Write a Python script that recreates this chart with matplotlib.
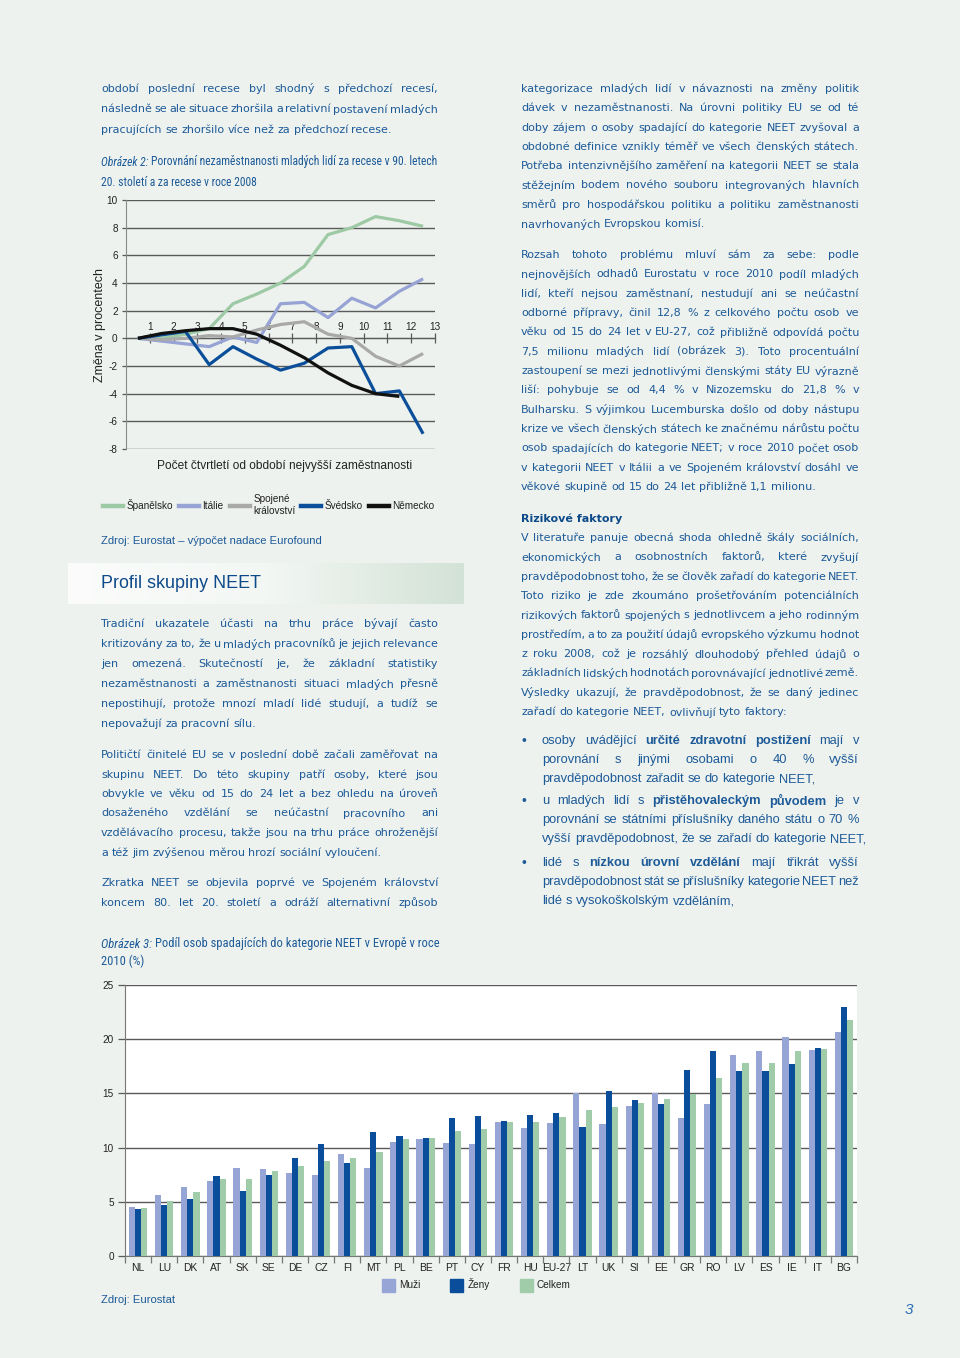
import matplotlib
matplotlib.use("Agg")
import matplotlib.pyplot as plt
import numpy as np
from matplotlib.patches import Patch
from matplotlib.lines import Line2D

# --- data: figure 2 (change in youth unemployment, % points) ---
quarters = list(range(1, 14))
spain = [0, 0.0, 0.3, 0.7, 2.5, 3.2, 4.0, 5.2, 7.5, 8.0, 8.8, 8.5, 8.1]
italy = [0, -0.2, -0.4, -0.6, 0.1, -0.3, 2.5, 2.6, 1.5, 2.9, 2.2, 3.4, 4.3]
uk = [0, -0.1, 0.0, 0.2, 0.1, 0.6, 1.0, 1.2, 0.3, 0.0, -1.3, -2.0, -1.1]
sweden = [0, 0.25, 0.5, -1.9, -0.6, -1.5, -2.3, -1.8, -0.7, -0.6, -4.0, -3.8, -6.9]
germany = [0, 0.35, 0.55, 0.7, 0.7, 0.3, -0.5, -1.4, -2.5, -3.4, -4.0, -4.2]
line_names = ["Španělsko", "Itálie", "Spojené\nkrálovství", "Švédsko", "Německo"]

# --- data: figure 3 (NEET share 2010, %) ---
countries = ["NL", "LU", "DK", "AT", "SK", "SE", "DE", "CZ", "FI", "MT", "PL", "BE", "PT",
             "CY", "FR", "HU", "EU-27", "LT", "UK", "SI", "EE", "GR", "RO", "LV", "ES",
             "IE", "IT", "BG"]
muzi = [4.5, 5.6, 6.4, 6.9, 8.1, 8.0, 7.7, 7.5, 9.4, 8.1, 10.5, 10.8, 10.4,
        10.3, 12.4, 11.8, 12.3, 15.0, 12.2, 13.8, 15.0, 12.7, 14.0, 18.5, 18.9,
        20.2, 19.0, 20.7]
zeny = [4.3, 4.7, 5.3, 7.4, 6.0, 7.5, 9.0, 10.3, 8.6, 11.4, 11.1, 10.9, 12.7,
        12.9, 12.5, 13.0, 13.2, 11.9, 15.2, 14.4, 14.0, 17.2, 18.9, 17.1, 17.1,
        17.7, 19.2, 23.0]
celkem = [4.4, 5.1, 5.9, 7.1, 7.1, 7.8, 8.3, 8.8, 9.0, 9.6, 10.8, 10.9, 11.5,
          11.7, 12.4, 12.4, 12.8, 13.5, 13.7, 14.1, 14.5, 14.9, 16.4, 17.8, 17.8,
          18.9, 19.1, 21.8]

# --- page text ---
left_top = ["období poslední recese byl shodný s předchozí recesí,",
            "následně se ale situace zhoršila a relativní postavení mladých",
            "pracujících se zhoršilo více než za předchozí recese."]
left_p1 = ["Tradiční ukazatele účasti na trhu práce bývají často",
           "kritizovány za to, že u mladých pracovníků je jejich relevance",
           "jen omezená. Skutečností je, že základní statistiky",
           "nezaměstnanosti a zaměstnanosti situaci mladých přesně",
           "nepostihují, protože mnozí mladí lidé studují, a tudíž se",
           "nepovažují za pracovní sílu."]
left_p2 = ["Političtí činitelé EU se v poslední době začali zaměřovat na",
           "skupinu NEET. Do této skupiny patří osoby, které jsou",
           "obvykle ve věku od 15 do 24 let a bez ohledu na úroveň",
           "dosaženého vzdělání se neúčastní pracovního ani",
           "vzdělávacího procesu, takže jsou na trhu práce ohroženější",
           "a též jim zvýšenou měrou hrozí sociální vyloučení."]
left_p3 = ["Zkratka NEET se objevila poprvé ve Spojeném království",
           "koncem 80. let 20. století a odráží alternativní způsob"]
right_p1 = ["kategorizace mladých lidí v návaznosti na změny politik",
            "dávek v nezaměstnanosti. Na úrovni politiky EU se od té",
            "doby zájem o osoby spadající do kategorie NEET zvyšoval a",
            "obdobné definice vznikly téměř ve všech členských státech.",
            "Potřeba intenzivnějšího zaměření na kategorii NEET se stala",
            "stěžejním bodem nového souboru integrovaných hlavních",
            "směrů pro hospodářskou politiku a politiku zaměstnanosti",
            "navrhovaných Evropskou komisí."]
right_p2 = ["Rozsah tohoto problému mluví sám za sebe: podle",
            "nejnovějších odhadů Eurostatu v roce 2010 podíl mladých",
            "lidí, kteří nejsou zaměstnaní, nestudují ani se neúčastní",
            "odborné přípravy, činil 12,8 % z celkového počtu osob ve",
            "věku od 15 do 24 let v EU-27, což přibližně odpovídá počtu",
            "7,5 milionu mladých lidí (obrázek 3). Toto procentuální",
            "zastoupení se mezi jednotlivými členskými státy EU výrazně",
            "liší: pohybuje se od 4,4 % v Nizozemsku do 21,8 % v",
            "Bulharsku. S výjimkou Lucemburska došlo od doby nástupu",
            "krize ve všech členských státech ke značnému nárůstu počtu",
            "osob spadajících do kategorie NEET; v roce 2010 počet osob",
            "v kategorii NEET v Itálii a ve Spojeném království dosáhl ve",
            "věkové skupině od 15 do 24 let přibližně 1,1 milionu."]
right_p3 = ["V literatuře panuje obecná shoda ohledně škály sociálních,",
            "ekonomických a osobnostních faktorů, které zvyšují",
            "pravděpodobnost toho, že se člověk zařadí do kategorie NEET.",
            "Toto riziko je zde zkoumáno prošetřováním potenciálních",
            "rizikových faktorů spojených s jednotlivcem a jeho rodinným",
            "prostředím, a to za použití údajů evropského výzkumu hodnot",
            "z roku 2008, což je rozsáhlý dlouhodobý přehled údajů o",
            "základních lidských hodnotách porovnávající jednotlivé země.",
            "Výsledky ukazují, že pravděpodobnost, že se daný jedinec",
            "zařadí do kategorie NEET, ovlivňují tyto faktory:"]
bullets = [["osoby uvádějící **určité zdravotní postižení** mají v",
            "porovnání s jinými osobami o 40 % vyšší",
            "pravděpodobnost zařadit se do kategorie NEET,"],
           ["u mladých lidí s **přistěhovaleckým původem** je v",
            "porovnání se státními příslušníky daného státu o 70 %",
            "vyšší pravděpodobnost, že se zařadí do kategorie NEET,"],
           ["lidé s **nízkou úrovní vzdělání** mají třikrát vyšší",
            "pravděpodobnost stát se příslušníky kategorie NEET než",
            "lidé s vysokoškolským vzděláním,"]]

plt.rcParams["axes.unicode_minus"] = False

W, H = 960, 1358
BG = "#edf2ee"
INK = "#1d5a98"
DARK = "#0d4a8a"
BODY = ["DejaVu Sans"]
NARROW = ["Roboto Condensed", "Liberation Sans Narrow", "Roboto", "DejaVu Sans"]
SANS = ["Liberation Sans", "DejaVu Sans"]
C_ES, C_IT, C_UK, C_SE, C_DE = "#9dc9a5", "#97a3d4", "#a9a9a9", "#0b4f9a", "#111111"
C_M, C_Z, C_C = "#97a4d6", "#0a4e9b", "#a0cca9"
GRID = "#5a5a5a"
BODY_SIZE = 8.0


def fx(px):
    return px / W


def fy(py):
    return 1 - py / H


fig = plt.figure(figsize=(9.6, 13.58), dpi=100, facecolor=BG)
renderer = fig.canvas.get_renderer()


def words_of(line):
    out = []
    for i, seg in enumerate(line.split("**")):
        for w in seg.split():
            out.append((w, i % 2 == 1))
    return out


def space_width(size, family):
    a = fig.text(0, 0, "a a", fontsize=size, family=family)
    b = fig.text(0, 0, "aa", fontsize=size, family=family)
    d = a.get_window_extent(renderer).width - b.get_window_extent(renderer).width
    a.remove()
    b.remove()
    return d


def put_line(x0, x1, y, line, size, family, justify):
    words = words_of(line)
    objs = [fig.text(0, fy(y), w, fontsize=size, family=family, color=INK,
                     weight="bold" if b else "normal", va="center")
            for w, b in words]
    widths = [o.get_window_extent(renderer).width for o in objs]
    if justify and len(objs) > 1:
        gap = (x1 - x0 - sum(widths)) / (len(objs) - 1)
    else:
        gap = space_width(size, family)
    x = x0
    for o, w in zip(objs, widths):
        o.set_x(fx(x))
        x += w + gap


def paragraph(x0, x1, y0, step, lines, size=BODY_SIZE, family=BODY, last_justified=False):
    for i, line in enumerate(lines):
        last = i == len(lines) - 1
        put_line(x0, x1, y0 + i * step, line, size, family, (not last) or last_justified)


# body text, left column
paragraph(101, 438, 89, 20.5, left_top)
paragraph(101, 438, 624, 20.0, left_p1)
paragraph(101, 438, 755, 19.5, left_p2)
paragraph(101, 438, 883, 20.0, left_p3, last_justified=True)

# body text, right column
paragraph(521, 859, 89, 19.3, right_p1)
paragraph(521, 859, 255, 19.35, right_p2)
fig.text(fx(521), fy(519), "Rizikové faktory", fontsize=BODY_SIZE, family=BODY,
         weight="bold", color=DARK, va="center")
paragraph(521, 859, 538, 19.35, right_p3)
for yb, blines in zip([741, 801, 863], bullets):
    fig.text(fx(521), fy(yb), "•", fontsize=10, family=SANS, color=INK, va="center")
    paragraph(542, 859, yb, 19.0, blines, size=9.3, family=SANS)


# captions: italic head + regular text, sized to span the column like the original
def caption(x, y, head, rest, target_right, size=8.6):
    t = fig.text(fx(x), fy(y), head, fontsize=size, family=NARROW, style="italic",
                 color=INK, va="center")
    r = fig.text(0, fy(y), rest, fontsize=size, family=NARROW, color=INK, va="center")
    w1 = t.get_window_extent(renderer).width
    w2 = r.get_window_extent(renderer).width
    scale = (target_right - x) / (w1 + w2 + 3)
    size = size * scale
    t.set_fontsize(size)
    r.set_fontsize(size)
    w1 = t.get_window_extent(renderer).width
    r.set_x(fx(x + w1 + 3 * scale))
    return size


cs = caption(101, 162, "Obrázek 2:", "Porovnání nezaměstnanosti mladých lidí za recese v 90. letech", 438)
fig.text(fx(101), fy(182), "20. století a za recese v roce 2008", fontsize=cs,
         family=NARROW, color=INK, va="center")
cs = caption(101, 944, "Obrázek 3:", "Podíl osob spadajících do kategorie NEET v Evropě v roce", 438)
fig.text(fx(101), fy(961), "2010 (%)", fontsize=cs, family=NARROW, color=INK, va="center")
fig.text(fx(101), fy(541), "Zdroj: Eurostat – výpočet nadace Eurofound", fontsize=8.1,
         family=SANS, color=INK, va="center")
fig.text(fx(101), fy(1300), "Zdroj: Eurostat", fontsize=8.1, family=SANS, color=INK,
         va="center")
fig.text(fx(905), fy(1310), "3", fontsize=11, family=SANS, style="italic",
         color="#2a6db3", va="center")

# heading band with gradient
band = fig.add_axes([fx(68), fy(604), (464 - 68) / W, (604 - 563) / H])
grad = np.linspace(0, 1, 256).reshape(1, -1)
cmap = matplotlib.colors.LinearSegmentedColormap.from_list(
    "band", ["#fbfcfb", "#f3f7f4", "#d3e2d6"])
band.imshow(grad, aspect="auto", cmap=cmap, extent=[0, 1, 0, 1])
band.set_axis_off()
fig.text(fx(101), fy(584), "Profil skupiny NEET", fontsize=12.9, family=SANS,
         color=DARK, va="center")

# ---------- figure 2: line chart ----------
ax1 = fig.add_axes([fx(126), fy(449), (435 - 126) / W, (449 - 200) / H])
ax1.set_facecolor("none")
series = [spain, italy, uk, sweden, germany]
colors = [C_ES, C_IT, C_UK, C_SE, C_DE]
handles = []
for vals, col, name in zip(series, colors, line_names):
    xs = np.arange(len(vals)) + 0.5
    ax1.plot(xs, vals, color=col, lw=2.3, solid_joinstyle="round", solid_capstyle="butt",
             zorder=3)
    handles.append(Line2D([], [], color=col, lw=3.2, label=name))
ax1.set_xlim(0, 13)
ax1.set_ylim(-8, 10)
ax1.set_yticks(range(-8, 11, 2))
ax1.yaxis.grid(True, color=GRID, lw=1.0)
ax1.set_axisbelow(True)
ax1.spines["right"].set_visible(False)
ax1.spines["bottom"].set_visible(False)
ax1.spines["left"].set_color("#8a8a8a")
ax1.spines["top"].set_position(("data", 0))
ax1.spines["top"].set_color(GRID)
ax1.xaxis.set_ticks_position("top")
ax1.set_xticks(quarters, [str(q) for q in quarters])
ax1.tick_params(axis="x", direction="inout", length=7, width=0.9, color=GRID,
                labelsize=7.2, pad=1, labelcolor="#222222")
ax1.tick_params(axis="y", length=3, width=0.9, color=GRID, labelsize=7.2,
                labelcolor="#222222", pad=3)
for lbl in ax1.get_xticklabels() + ax1.get_yticklabels():
    lbl.set_family(SANS)
ax1.set_ylabel("Změna v procentech", fontsize=9, family=SANS, color="#222222")
ax1.yaxis.set_label_coords(-0.065, 0.5)
fig.text(fx(285), fy(466), "Počet čtvrtletí od období nejvyšší zaměstnanosti",
         fontsize=8.6, family=SANS, color="#222222", ha="center", va="center")
fig.legend(handles=handles, loc="center left", bbox_to_anchor=(fx(94), fy(505)),
           ncol=5, frameon=False, handlelength=2.0, handletextpad=0.35,
           columnspacing=0.6, prop={"family": SANS, "size": 7.2}, labelcolor="#222222")

# ---------- figure 3: bar chart ----------
ax2 = fig.add_axes([fx(125), fy(1256), (857 - 125) / W, (1256 - 985) / H])
ax2.set_facecolor("white")
xpos = np.arange(len(countries))
bw = 0.235
ax2.bar(xpos - bw, muzi, bw, color=C_M, label="Muži", zorder=3)
ax2.bar(xpos, zeny, bw, color=C_Z, label="Ženy", zorder=3)
ax2.bar(xpos + bw, celkem, bw, color=C_C, label="Celkem", zorder=3)
ax2.set_xlim(-0.5, len(countries) - 0.5)
ax2.set_ylim(0, 25)
ax2.set_yticks(range(0, 26, 5))
ax2.yaxis.grid(True, color=GRID, lw=1.0)
ax2.set_axisbelow(True)
for s in ["top", "right"]:
    ax2.spines[s].set_visible(False)
for s in ["left", "bottom"]:
    ax2.spines[s].set_color("#777777")
ax2.set_xticks(xpos, countries)
ax2.set_xticks(np.arange(-0.5, len(countries)), minor=True)
ax2.tick_params(axis="x", which="major", length=0, labelsize=7.4, pad=5, labelcolor="#222222")
ax2.tick_params(axis="x", which="minor", length=5, width=0.9, color="#777777")
ax2.tick_params(axis="y", length=5, width=0.9, color=GRID, labelsize=7.2,
                labelcolor="#222222", pad=3)
for lbl in ax2.get_xticklabels() + ax2.get_yticklabels():
    lbl.set_family(SANS)
bar_handles = [Patch(color=C_M, label="Muži"), Patch(color=C_Z, label="Ženy"),
               Patch(color=C_C, label="Celkem")]
fig.legend(handles=bar_handles, loc="center left", bbox_to_anchor=(fx(373), fy(1285)),
           ncol=3, frameon=False, handlelength=1.3, handleheight=1.6, handletextpad=0.4,
           columnspacing=3.0, prop={"family": SANS, "size": 7.2}, labelcolor="#222222")

fig.savefig("out.png", dpi=100, facecolor=BG)
